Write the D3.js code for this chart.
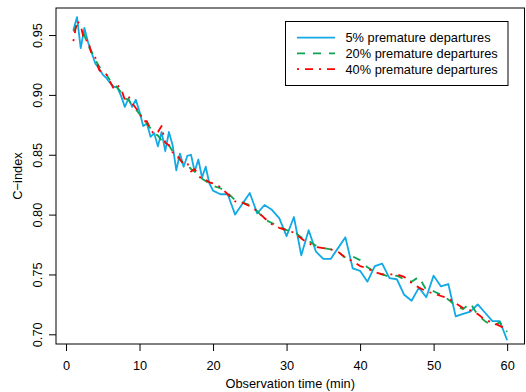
<!DOCTYPE html>
<html>
<head>
<meta charset="utf-8">
<script src="https://cdn.jsdelivr.net/npm/d3@7"></script>
<style>
  body { margin: 0; background: #fff; }
  text { font-family: "Liberation Sans", Arial, Helvetica, sans-serif; }
</style>
</head>
<body>
<div id="chart"></div>
<script>
// Observation times (min): half-minute steps up to 20, then every minute
const times = [
    1, 1.5, 2, 2.5, 3, 3.5, 4, 4.5, 5, 5.5, 6, 6.5, 7, 7.5, 8, 8.5, 9, 9.5, 10,
    10.5, 11, 11.5, 12, 12.5, 13, 13.5, 14, 14.5, 15, 15.5, 16, 16.5, 17, 17.5,
    18, 18.5, 19, 19.5, 20,
    21, 22, 23, 24, 25, 26, 27, 28, 29, 30, 31, 32, 33, 34, 35, 36, 37, 38, 39, 40,
    41, 42, 43, 44, 45, 46, 47, 48, 49, 50, 51, 52, 53, 54, 55, 56, 57, 58, 59, 60
];

// C-index, 5% premature departures
const cindex5 = [
    0.954, 0.965, 0.939, 0.956, 0.944, 0.935, 0.926, 0.922, 0.917, 0.914, 0.910, 0.907, 0.906, 0.899, 0.890, 0.897, 0.890, 0.896, 0.886,
    0.874, 0.876, 0.865, 0.868, 0.857, 0.869, 0.853, 0.869, 0.858, 0.837, 0.851, 0.840, 0.849, 0.850, 0.836,
    0.846, 0.831, 0.840, 0.826, 0.820,
    0.817, 0.817, 0.800, 0.809, 0.818, 0.801, 0.808, 0.804, 0.797, 0.782,
    0.798, 0.766, 0.787, 0.769, 0.763, 0.763, 0.772, 0.781, 0.755, 0.753,
    0.744, 0.757, 0.759, 0.747, 0.746, 0.733, 0.728, 0.739, 0.731, 0.749,
    0.740, 0.742, 0.715, 0.717, 0.719, 0.725, 0.718, 0.711, 0.711, 0.695
];

// C-index, 20% premature departures
const cindex20 = [
    0.953, 0.958, 0.955, 0.950, 0.941, 0.936, 0.929, 0.924, 0.919, 0.917, 0.912, 0.909, 0.906, 0.902, 0.897, 0.896, 0.891, 0.888, 0.884,
    0.879, 0.876, 0.872, 0.868, 0.866, 0.862, 0.859, 0.858, 0.853, 0.849, 0.846, 0.843, 0.842, 0.838, 0.836,
    0.833, 0.830, 0.828, 0.826, 0.824,
    0.822, 0.818, 0.812, 0.810, 0.808, 0.803, 0.796, 0.793, 0.790, 0.787,
    0.786, 0.781, 0.778, 0.774, 0.772, 0.771, 0.769, 0.764, 0.765, 0.762,
    0.756, 0.752, 0.750, 0.748, 0.749, 0.746, 0.744, 0.748, 0.737, 0.736,
    0.733, 0.729, 0.724, 0.721, 0.726, 0.716, 0.711, 0.707, 0.710, 0.702
];

// C-index, 40% premature departures
const cindex40 = [
    0.945, 0.962, 0.958, 0.945, 0.946, 0.933, 0.931, 0.921, 0.918, 0.917, 0.911, 0.905, 0.908, 0.905, 0.896, 0.899, 0.893, 0.889, 0.886,
    0.878, 0.878, 0.871, 0.867, 0.869, 0.874, 0.860, 0.858, 0.852, 0.851, 0.846, 0.842, 0.843, 0.836, 0.838,
    0.833, 0.829, 0.829, 0.827, 0.826,
    0.823, 0.817, 0.811, 0.810, 0.807, 0.803, 0.797, 0.792, 0.789, 0.787,
    0.785, 0.780, 0.776, 0.773, 0.772, 0.771, 0.769, 0.764, 0.761, 0.757,
    0.755, 0.752, 0.750, 0.750, 0.750, 0.748, 0.743, 0.739, 0.736, 0.734,
    0.732, 0.730, 0.726, 0.722, 0.720, 0.717, 0.712, 0.710, 0.707, 0.704
];

const seriesNames = ["5% premature departures", "20% premature departures", "40% premature departures"];
const xTicks = [0, 10, 20, 30, 40, 50, 60];
const yTicks = [0.70, 0.75, 0.80, 0.85, 0.90, 0.95];

// Line styles for each series (solid, dashed, dot-dash like R lty 1, 2, 4)
const series = [
    { name: seriesNames[0], values: cindex5, color: "#12a9e4", dash: null },
    { name: seriesNames[1], values: cindex20, color: "#0ea552", dash: "8,8" },
    { name: seriesNames[2], values: cindex40, color: "#ff0000", dash: "2,6,8,6" }
];

const width = 526;
const height = 392;
const plot = { left: 56, right: 524.5, top: 8, bottom: 344 };
const fontSize = "12.8px";

const svg = d3.select("#chart")
    .append("svg")
    .attr("width", width)
    .attr("height", height);

// Scales (R style: 4% padding around the data range)
const x = d3.scaleLinear()
    .domain([-1.36, 62.36])
    .range([plot.left, plot.right]);

const y = d3.scaleLinear()
    .domain([0.6919, 0.9726])
    .range([plot.bottom, plot.top]);

// Clip so lines stay inside the box
svg.append("clipPath")
    .attr("id", "plot-clip")
    .append("rect")
    .attr("x", plot.left)
    .attr("y", plot.top)
    .attr("width", plot.right - plot.left)
    .attr("height", plot.bottom - plot.top);

const line = d3.line()
    .x((d, i) => x(times[i]))
    .y(d => y(d));

svg.append("g")
    .attr("clip-path", "url(#plot-clip)")
    .selectAll("path")
    .data(series)
    .enter().append("path")
    .attr("d", d => line(d.values))
    .attr("fill", "none")
    .attr("stroke", d => d.color)
    .attr("stroke-width", 1.8)
    .attr("stroke-dasharray", d => d.dash)
    .attr("stroke-linejoin", "round");

// Bottom axis
const xAxis = svg.append("g")
    .attr("transform", `translate(0,${plot.bottom})`)
    .call(d3.axisBottom(x).tickValues(xTicks).tickSize(7).tickSizeOuter(0).tickFormat(d3.format("d")));
xAxis.select(".domain").remove();
xAxis.selectAll("line").attr("stroke", "#000");
xAxis.selectAll("text")
    .attr("y", 26)
    .attr("dy", null)
    .style("font-size", fontSize)
    .attr("fill", "#000");

// Left axis with vertical tick labels
const yAxis = svg.append("g")
    .attr("transform", `translate(${plot.left},0)`)
    .call(d3.axisLeft(y).tickValues(yTicks).tickSize(7).tickSizeOuter(0).tickFormat(d3.format(".2f")));
yAxis.select(".domain").remove();
yAxis.selectAll("line").attr("stroke", "#000");
yAxis.selectAll("text")
    .attr("x", null)
    .attr("dy", null)
    .attr("text-anchor", "middle")
    .attr("transform", "translate(-14.5,0) rotate(-90)")
    .style("font-size", fontSize)
    .attr("fill", "#000");

// Plot box
svg.append("rect")
    .attr("x", plot.left)
    .attr("y", plot.top)
    .attr("width", plot.right - plot.left)
    .attr("height", plot.bottom - plot.top)
    .attr("fill", "none")
    .attr("stroke", "#000")
    .attr("stroke-width", 1);

// Axis titles
svg.append("text")
    .attr("x", (plot.left + plot.right) / 2)
    .attr("y", 388)
    .attr("text-anchor", "middle")
    .style("font-size", fontSize)
    .text("Observation time (min)");

svg.append("text")
    .attr("transform", `translate(21.5,${(plot.top + plot.bottom) / 2}) rotate(-90)`)
    .attr("text-anchor", "middle")
    .style("font-size", fontSize)
    .text("C\u2212index");

// Legend
const legend = svg.append("g");
legend.append("rect")
    .attr("x", 285.5)
    .attr("y", 21.5)
    .attr("width", 222.5)
    .attr("height", 64)
    .attr("fill", "#fff")
    .attr("stroke", "#000")
    .attr("stroke-width", 1);

const rows = legend.selectAll("g.row")
    .data(series)
    .enter().append("g")
    .attr("class", "row")
    .attr("transform", (d, i) => `translate(0,${37.7 + i * 15.7})`);

rows.append("line")
    .attr("x1", 297)
    .attr("x2", 335)
    .attr("stroke", d => d.color)
    .attr("stroke-width", 1.8)
    .attr("stroke-dasharray", d => d.dash);

rows.append("text")
    .attr("x", 345.5)
    .attr("y", 4.5)
    .style("font-size", fontSize)
    .text(d => d.name);
</script>
</body>
</html>
